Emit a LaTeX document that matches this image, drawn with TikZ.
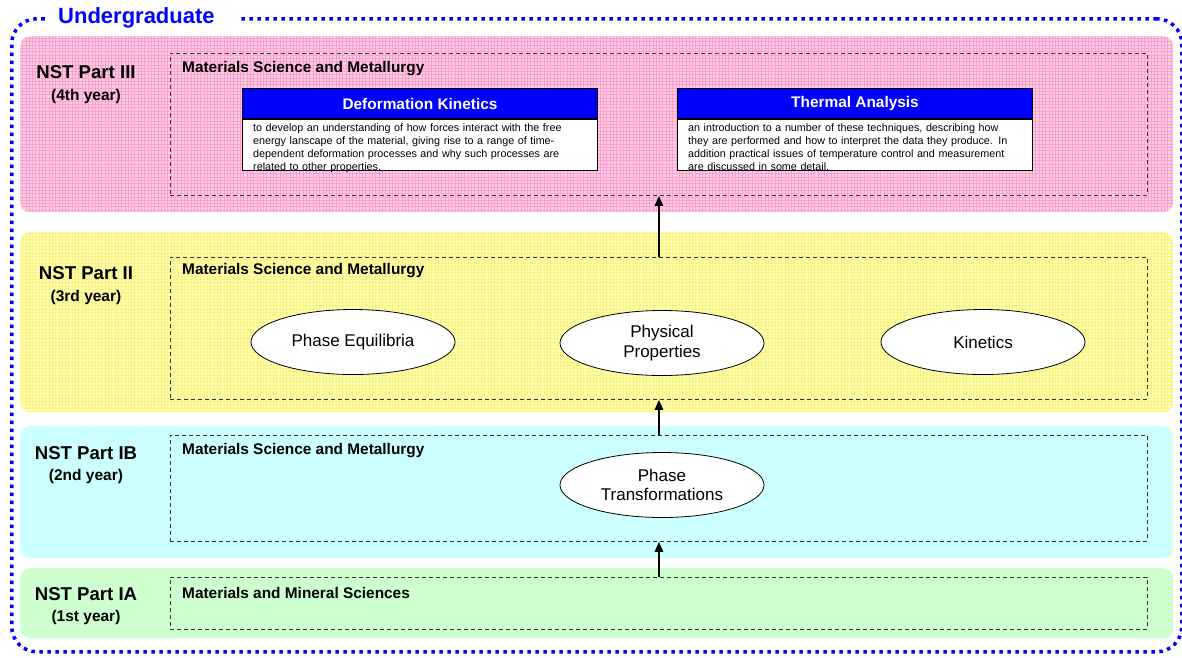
\documentclass[tikz,border=0pt]{standalone}
\usepackage{fontspec}
\setmainfont{Liberation Sans}
\usetikzlibrary{arrows.meta, positioning, shapes.geometric}
\definecolor{ugblue}{RGB}{0,0,255}
\definecolor{partpink}{RGB}{255,206,230}
\definecolor{pinkgrid}{RGB}{250,160,205}
\definecolor{partyellow}{RGB}{255,255,170}
\definecolor{yellowgrid}{RGB}{248,242,140}
\definecolor{partcyan}{RGB}{204,255,255}
\definecolor{partgreen}{RGB}{206,255,206}
\definecolor{dashgray}{RGB}{51,51,51}

\tikzset{
  band/.style={rectangle, rounded corners=10pt, draw=none, minimum width=1153pt, anchor=north west, inner sep=0pt},
  gridband/.style 2 args={band, fill=#1, path picture={
      \draw[#2, line width=0.5pt] (path picture bounding box.south west) grid[step=3.3pt] (path picture bounding box.north east);}},
  course/.style={rectangle, draw=dashgray, dash pattern=on 4pt off 3pt, line width=0.9pt, minimum width=977pt, anchor=north west, inner sep=0pt},
  partlabel/.style={font=\fontsize{18.6}{22}\selectfont\bfseries},
  yearlabel/.style={font=\fontsize{15.5}{18}\selectfont\bfseries},
  coursetitle/.style={font=\fontsize{15.4}{18}\selectfont\bfseries, anchor=west, inner sep=0pt},
  topic/.style={ellipse, draw, fill=white, line width=0.8pt, minimum width=204pt, minimum height=65pt, inner sep=0pt, align=center, font=\fontsize{17}{19.5}\selectfont},
  modhead/.style={rectangle, draw, fill=ugblue, text=white, line width=1pt, minimum width=355pt, minimum height=30pt, inner sep=0pt, anchor=north west, font=\fontsize{15.4}{18}\selectfont\bfseries},
  modbody/.style={rectangle, draw, fill=white, line width=1pt, minimum width=355pt, minimum height=51pt, inner sep=0pt, anchor=north},
  modtext/.style={text width=333pt, inner sep=0pt, anchor=north west, align=left, font=\fontsize{10.75}{12.7}\selectfont},
  upflow/.style={-{Triangle[length=10pt,width=8.5pt]}, line width=1.4pt}
}

\begin{document}
\begin{tikzpicture}[x=1pt, y=-1pt]
  \useasboundingbox (0,0) rectangle (1182,657);

  % year bands
  \node (pinkband) [gridband={partpink}{pinkgrid}, minimum height=176pt] at (20,36) {};
  \node (yellowband) [gridband={partyellow}{yellowgrid}, minimum height=180pt] at (20,232) {};
  \node (cyanband) [band, fill=partcyan, minimum height=132pt] at (20,426) {};
  \node (greenband) [band, fill=partgreen, minimum height=70pt] at (20,568) {};

  % outer frame
  \node (ugframe) [draw=ugblue, line width=3.5pt, dash pattern=on 3.5pt off 4.5pt, rounded corners=25pt,
    minimum width=1170pt, minimum height=633pt, anchor=north west, inner sep=0pt] at (10,17) {};
  \node (ugtitle) [fill=white, text=ugblue, anchor=west, text width=169pt, align=left, inner xsep=13pt, inner ysep=3pt,
    font=\fontsize{22}{25}\selectfont\bfseries] at (45,18) {Undergraduate};

  % part labels
  \node (p3) [partlabel] at (86,72) {NST Part III};
  \node (y4) [yearlabel] at (86,96) {(4th year)};
  \node (p2) [partlabel] at (86,273) {NST Part II};
  \node (y3) [yearlabel] at (86,297) {(3rd year)};
  \node (p1b) [partlabel] at (86,453) {NST Part IB};
  \node (y2) [yearlabel] at (86,476) {(2nd year)};
  \node (p1a) [partlabel] at (86,594) {NST Part IA};
  \node (y1) [yearlabel] at (86,617) {(1st year)};

  % courses
  \node (iii) [course, minimum height=142pt] at (170,53) {};
  \node (ii) [course, minimum height=142pt] at (170,257) {};
  \node (ib) [course, minimum height=106pt] at (170,435) {};
  \node (ia) [course, minimum height=52pt] at (170,577) {};
  \node (iiititle) [coursetitle] at (182,69) {Materials Science and Metallurgy};
  \node (iititle) [coursetitle] at (182,271) {Materials Science and Metallurgy};
  \node (ibtitle) [coursetitle] at (182,451) {Materials Science and Metallurgy};
  \node (iatitle) [coursetitle] at (182,593) {Materials and Mineral Sciences};

  % part III modules
  \node (defhead) [modhead] at (242,88) {Deformation Kinetics};
  \node (defbody) [modbody] at (defhead.south) {};
  \node (deftext) [modtext] at ([xshift=11pt,yshift=-5pt]defbody.north west) {to develop an understanding of how forces interact with the free\\
    energy lanscape of the material, giving rise to a range of time-\\
    dependent deformation processes and why such processes are\\
    related to other properties.};
  \node (thahead) [modhead] at (677,88) {Thermal Analysis};
  \node (thabody) [modbody] at (thahead.south) {};
  \node (thatext) [modtext] at ([xshift=11pt,yshift=-5pt]thabody.north west) {an introduction to a number of these techniques, describing how\\
    they are performed and how to interpret the data they produce. In\\
    addition practical issues of temperature control and measurement\\
    are discussed in some detail.};

  % part II and IB topics
  \node (phaseeq) [topic] at (353,342) {Phase Equilibria};
  \node (physprop) [topic] at (662,343) {Physical\\Properties};
  \node (kinetics) [topic] at (983,342) {Kinetics};
  \node (phasetrans) [topic] at (662,485) {Phase\\Transformations};

  % progression
  \draw[upflow] (ia.north) -- (ib.south);
  \draw[upflow] (ib.north) -- (ii.south);
  \draw[upflow] (ii.north) -- (iii.south);
\end{tikzpicture}
\end{document}
